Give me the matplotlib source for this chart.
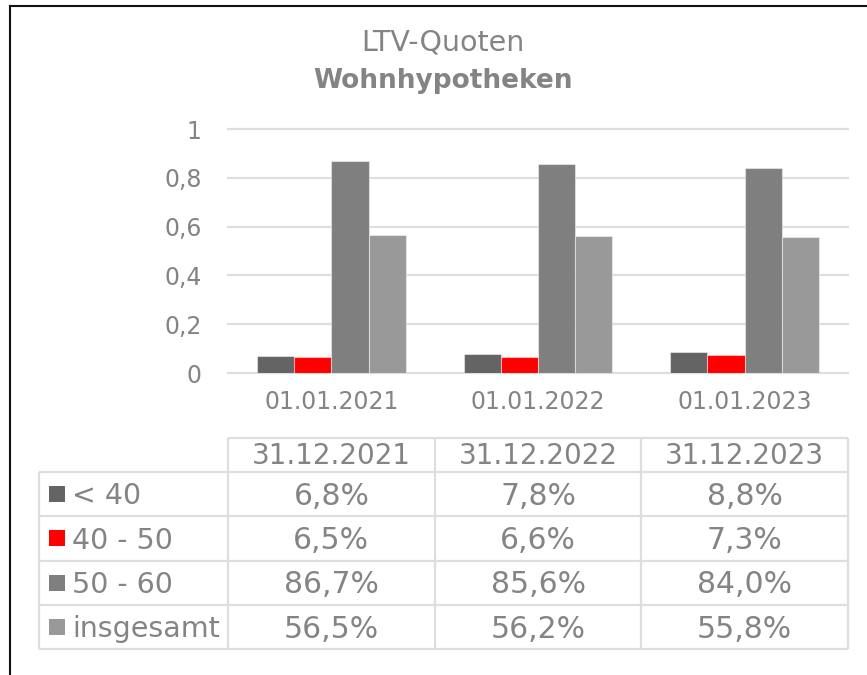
import matplotlib
matplotlib.use("Agg")
import matplotlib.pyplot as plt
import numpy as np
from matplotlib.lines import Line2D
from matplotlib.patches import Rectangle

# data
axis_dates = ["01.01.2021", "01.01.2022", "01.01.2023"]
table_dates = ["31.12.2021", "31.12.2022", "31.12.2023"]
series_names = ["< 40", "40 - 50", "50 - 60", "insgesamt"]
share_lt40 = [0.068, 0.078, 0.088]
share_40_50 = [0.065, 0.066, 0.073]
share_50_60 = [0.867, 0.856, 0.840]
share_total = [0.565, 0.562, 0.558]

series_values = [share_lt40, share_40_50, share_50_60, share_total]
series_colors = ["#646464", "#ff0000", "#7f7f7f", "#999999"]

TEXT = "#848484"
GRID = "#dedede"
W, H = 867, 675

plt.rcParams["font.family"] = ["DejaVu Sans"]

fig = plt.figure(figsize=(W / 100, H / 100), dpi=100)


def px_rect(left, top, right, bottom):
    return [left / W, 1 - bottom / H, (right - left) / W, (bottom - top) / H]


# frame (only top and left edges visible in the crop)
fig.add_artist(Line2D([9.5 / W, 1], [1 - 5.5 / H, 1 - 5.5 / H], transform=fig.transFigure,
                      color="#111111", linewidth=1.5))
fig.add_artist(Line2D([9.5 / W, 9.5 / W], [0, 1 - 5.5 / H], transform=fig.transFigure,
                      color="#111111", linewidth=1.5))

fig.text(443 / W, 1 - 51 / H, "LTV-Quoten", ha="center", va="baseline",
         fontsize=20.5, color=TEXT)
fig.text(443 / W, 1 - 88 / H, "Wohnhypotheken", ha="center", va="baseline",
         fontsize=19, color=TEXT, fontweight="bold")

# bar chart
ax = fig.add_axes(px_rect(228, 129, 848, 373))
x = np.arange(len(axis_dates))
bar_w = 0.18
for k, (vals, col) in enumerate(zip(series_values, series_colors)):
    ax.bar(x + (k - 1.5) * bar_w, vals, width=bar_w, color=col,
           edgecolor=(1, 1, 1, 0.45), linewidth=0.8, zorder=3)

ax.set_xlim(-0.5, len(axis_dates) - 0.5)
ax.set_ylim(0, 1)
ax.set_yticks(np.arange(0, 1.01, 0.2))
ax.set_yticklabels([("%g" % round(v, 1)).replace(".", ",") for v in np.arange(0, 1.01, 0.2)])
ax.set_xticks(x)
ax.set_xticklabels(axis_dates)
ax.tick_params(axis="y", length=0, pad=19, labelsize=17, labelcolor=TEXT)
ax.tick_params(axis="x", length=0, pad=12, labelsize=17, labelcolor=TEXT)
ax.yaxis.grid(True, color=GRID, linewidth=1.6, zorder=0)
for line in ax.get_ygridlines():
    line.set_clip_on(False)
for sp in ax.spines.values():
    sp.set_visible(False)

# data table below the chart, columns aligned with the categories
tax = fig.add_axes(px_rect(39, 438, 848, 649))
label_left = -0.5 - (228 - 39) / ((848 - 228) / 3)
head_h = 34 / 44.25
n_rows = len(series_names)
tax.set_xlim(label_left, len(table_dates) - 0.5)
tax.set_ylim(n_rows, -head_h)
tax.axis("off")

line_kw = dict(color=GRID, linewidth=1.6, clip_on=False)
tax.hlines(-head_h, -0.5, len(table_dates) - 0.5, **line_kw)
tax.hlines(np.arange(n_rows + 1), label_left, len(table_dates) - 0.5, **line_kw)
tax.vlines(label_left, 0, n_rows, **line_kw)
tax.vlines(np.arange(len(table_dates) + 1) - 0.5, -head_h, n_rows, **line_kw)

for j, d in enumerate(table_dates):
    tax.text(j, -head_h / 2 + 0.02, d, ha="center", va="center", fontsize=20, color=TEXT)

unit = (848 - 228) / 3
for i, (name, vals, col) in enumerate(zip(series_names, series_values, series_colors)):
    sw = 16 / unit
    sh = 16 / 44.25
    tax.add_patch(Rectangle((label_left + 10 / unit, i + 0.5 - sh / 2), sw, sh,
                            facecolor=col, edgecolor="none", clip_on=False))
    tax.text(label_left + 33 / unit, i + 0.55, name, ha="left", va="center",
             fontsize=20.5, color=TEXT)
    for j, v in enumerate(vals):
        tax.text(j, i + 0.55, ("%.1f%%" % (v * 100)).replace(".", ","),
                 ha="center", va="center", fontsize=21.5, color=TEXT)

fig.savefig("out.png", dpi=100, facecolor="white")
